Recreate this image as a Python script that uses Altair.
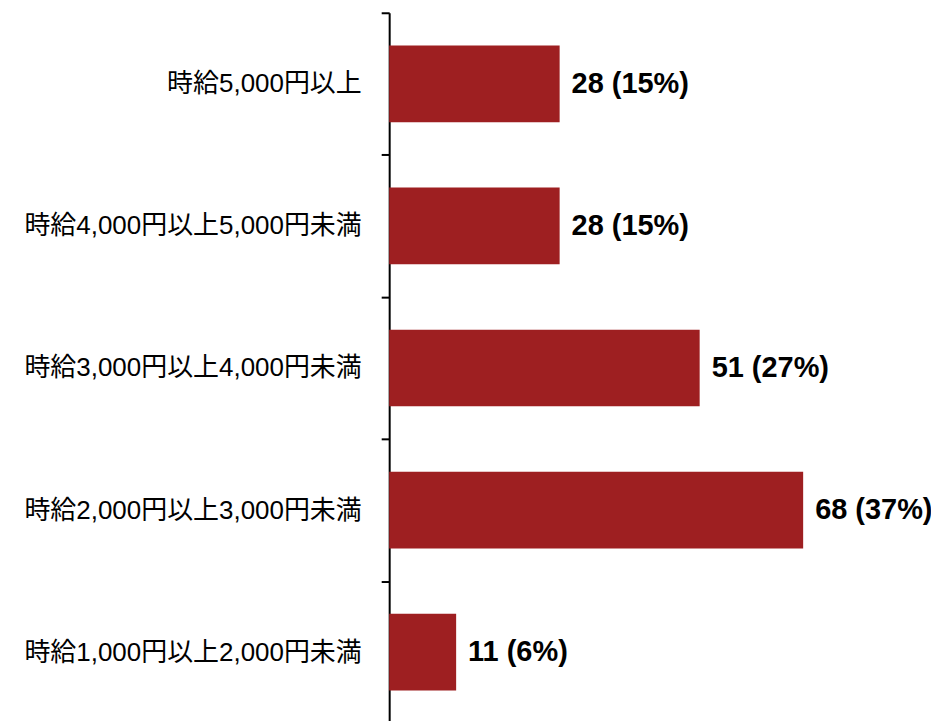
import altair as alt
import pandas as pd

categories = [
    "時給5,000円以上",
    "時給4,000円以上5,000円未満",
    "時給3,000円以上4,000円未満",
    "時給2,000円以上3,000円未満",
    "時給1,000円以上2,000円未満",
]
counts = [28, 28, 51, 68, 11]
percents = [15, 15, 27, 37, 6]
labels = [f"{c} ({p}%)" for c, p in zip(counts, percents)]

df = pd.DataFrame({"category": categories, "count": counts, "label": labels})

y_enc = alt.Y(
    "category:N",
    sort=categories,
    title=None,
    scale=alt.Scale(paddingInner=0, paddingOuter=0),
    axis=alt.Axis(
        tickBand="extent",
        domainColor="black",
        domainWidth=2,
        tickColor="black",
        tickWidth=2,
        tickSize=8,
        labelFontSize=26,
        labelFont="Liberation Sans, Noto Sans CJK JP",
        labelColor="black",
        labelPadding=20,
        labelLimit=500,
    ),
)
x_enc = alt.X("count:Q", scale=alt.Scale(domain=[0, 89], nice=False), axis=None)

bars = alt.Chart(df).mark_bar(
    color="#9e1f21", height=alt.RelativeBandSize(0.54)
).encode(x=x_enc, y=y_enc)
text = alt.Chart(df).mark_text(
    align="left", baseline="middle", dx=12, fontSize=29, fontWeight="bold",
    font="Liberation Sans", color="black"
).encode(x=x_enc, y=y_enc, text="label:N")

chart = (bars + text).properties(
    width=543, height=712,
    autosize=alt.AutoSizeParams(type="none"),
    padding={"left": 382, "top": 4, "right": 0, "bottom": 0},
).configure_view(stroke=None)

chart.save("out.html", embed_options={"renderer": "svg", "actions": False})
